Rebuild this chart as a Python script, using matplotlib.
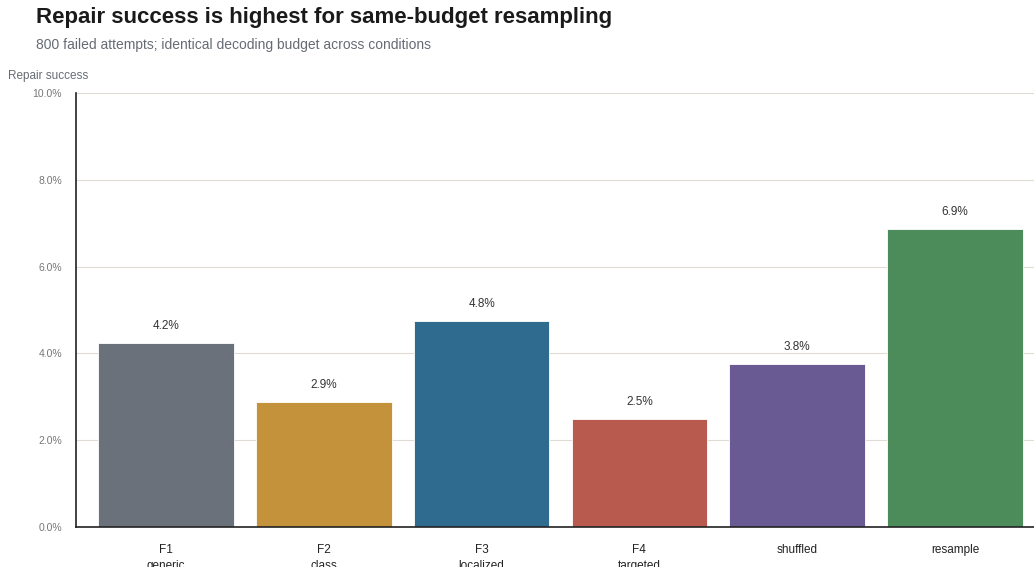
import matplotlib.pyplot as plt
from matplotlib.ticker import FuncFormatter

plt.rcParams['font.family'] = ['Liberation Sans', 'DejaVu Sans']

# repair success in percent (of 800 failed attempts)
conditions = ["F1\ngeneric", "F2\nclass", "F3\nlocalized", "F4\ntargeted", "shuffled", "resample"]
success = [4.25, 2.875, 4.75, 2.5, 3.75, 6.875]
colors = ["#6a717b", "#c4923b", "#2f6b8f", "#b85a4d", "#6a5a94", "#4c8b5a"]

fig = plt.figure(figsize=(10.34, 5.67), dpi=100)
ax = fig.add_axes([76 / 1034, 1 - 527 / 567, (1034 - 76) / 1034, (527 - 93) / 567])

x = range(len(conditions))
bars = ax.bar(x, success, width=0.86, color=colors, edgecolor="white", linewidth=0.6, zorder=2)

for b, v in zip(bars, success):
    ax.text(b.get_x() + b.get_width() / 2, v + 0.25, "{:.1f}%".format(v),
            ha="center", va="bottom", fontsize=8.5, color="#333333")

ax.set_xlim(-0.57, len(conditions) - 0.5)
ax.set_ylim(0, 10)
ax.set_yticks([0, 2, 4, 6, 8, 10])
ax.yaxis.set_major_formatter(FuncFormatter(lambda v, p: "{:.1f}%".format(v)))
ax.set_xticks(list(x))
ax.set_xticklabels(conditions, fontsize=8.5, color="#222222", linespacing=1.5)

ax.grid(axis="y", color="#e0dcd5", linewidth=0.8, zorder=0)
ax.tick_params(axis="y", length=0, labelsize=7.5, labelcolor="#777777", pad=10)
ax.tick_params(axis="x", length=0, pad=12)
for s in ["top", "right"]:
    ax.spines[s].set_visible(False)
ax.spines["left"].set_color("#222222")
ax.spines["bottom"].set_color("#222222")
ax.spines["left"].set_linewidth(1.2)
ax.spines["bottom"].set_linewidth(1.2)

fig.text(36 / 1034, 1 - 18 / 567, "Repair success is highest for same-budget resampling",
         fontsize=16, fontweight="bold", color="#1a1a1a", va="center")
fig.text(36 / 1034, 1 - 45 / 567, "800 failed attempts; identical decoding budget across conditions",
         fontsize=10, color="#666b73", va="center")
fig.text(8 / 1034, 1 - 76 / 567, "Repair success", fontsize=8.5, color="#666b73", va="center")

fig.savefig("out.png", dpi=100)
